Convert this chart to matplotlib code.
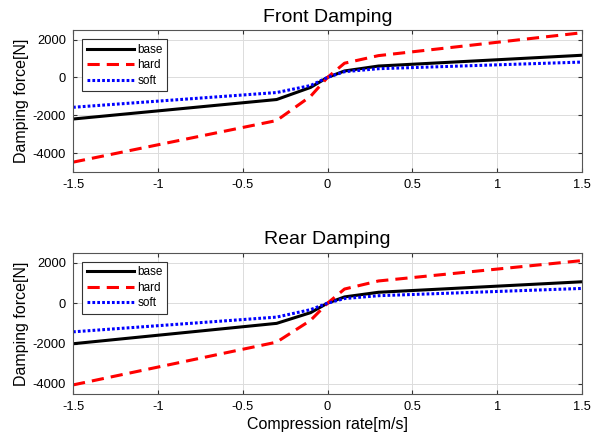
import matplotlib
matplotlib.use("Agg")
import matplotlib.pyplot as plt

plt.rcParams["font.family"] = ["Liberation Sans", "DejaVu Sans"]

# compression rate breakpoints [m/s]
speed = [-1.5, -0.3, -0.1, 0.0, 0.1, 0.3, 1.5]

# front damper force curves [N]
front_base = [-2200, -1170, -530, 0, 340, 600, 1170]
front_hard = [-4480, -2280, -1000, 0, 750, 1150, 2360]
front_soft = [-1580, -800, -430, 0, 300, 460, 810]

# rear damper force curves [N]
rear_base = [-2010, -1000, -470, 0, 310, 540, 1060]
rear_hard = [-4050, -1930, -850, 0, 700, 1100, 2110]
rear_soft = [-1420, -690, -320, 0, 230, 370, 730]

xticks = [-1.5, -1, -0.5, 0, 0.5, 1, 1.5]
xticklabels = ["-1.5", "-1", "-0.5", "0", "0.5", "1", "1.5"]

fig = plt.figure(figsize=(5.97, 4.36), dpi=100)
ax_front = fig.add_axes([0.1223, 0.6055, 0.8527, 0.3255])
ax_rear = fig.add_axes([0.1223, 0.0963, 0.8527, 0.3241])


def draw(ax, title, base, hard, soft, ylim, yticks):
    ax.plot(speed, base, color="black", lw=2.2, label="base")
    ax.plot(speed, hard, color="red", lw=2.2, ls=(0, (4, 2.3)), label="hard")
    ax.plot(speed, soft, color="blue", lw=2.2, ls=(0, (0.9, 0.7)), label="soft")
    ax.set_xlim(-1.5, 1.5)
    ax.set_ylim(*ylim)
    ax.set_xticks(xticks)
    ax.set_xticklabels(xticklabels)
    ax.set_yticks(yticks)
    ax.set_yticklabels([str(t) for t in yticks])
    ax.grid(True, color="#dcdcdc", lw=0.7)
    ax.tick_params(direction="in", top=True, right=True, labelsize=9.3,
                   length=3, color="#333333", pad=5)
    for s in ax.spines.values():
        s.set_color("#555555")
        s.set_linewidth(0.8)
    ax.set_title(title, fontsize=14, pad=6)
    ax.set_ylabel("Damping force[N]", fontsize=11.5, labelpad=3)
    leg = ax.legend(loc="upper left", fontsize=8.5, handlelength=4.0,
                    handletextpad=0.3, borderpad=0.4, labelspacing=0.3,
                    fancybox=False, framealpha=1, borderaxespad=0.75)
    leg.get_frame().set_edgecolor("#333333")
    leg.get_frame().set_linewidth(0.8)


draw(ax_front, "Front Damping", front_base, front_hard, front_soft,
     (-5000, 2500), [-4000, -2000, 0, 2000])
draw(ax_rear, "Rear Damping", rear_base, rear_hard, rear_soft,
     (-4500, 2500), [-4000, -2000, 0, 2000])
ax_rear.set_xlabel("Compression rate[m/s]", fontsize=11.5, labelpad=3)

fig.savefig("out.png", dpi=100)
